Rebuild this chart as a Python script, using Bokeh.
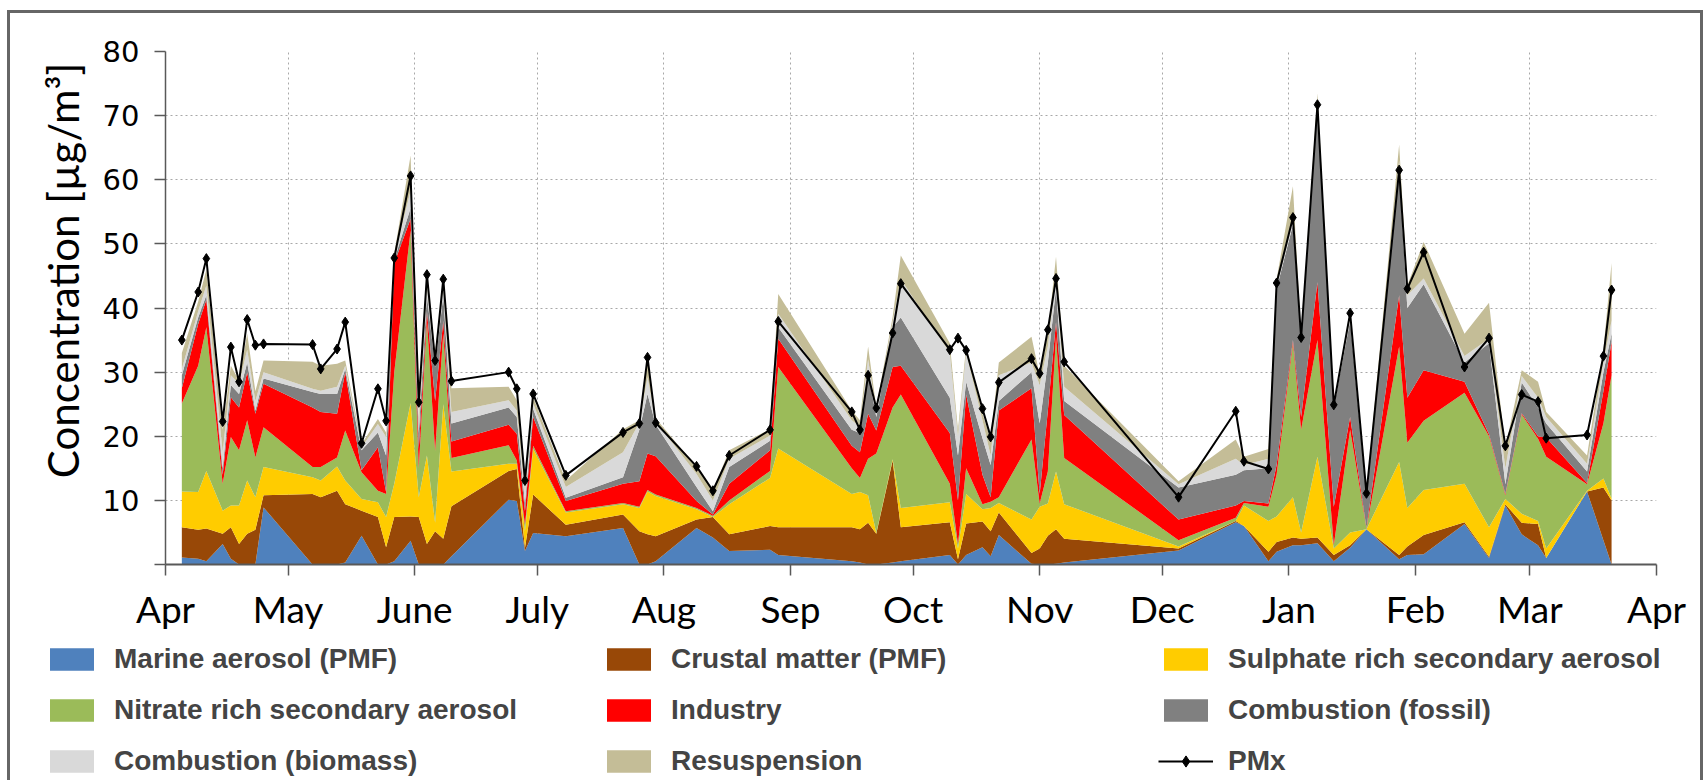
from bokeh.plotting import figure
from bokeh.layouts import column
from bokeh.models import ColumnDataSource, Range1d, FixedTicker, Legend, LegendItem
from bokeh.embed import file_html
from bokeh.resources import INLINE

# ---- axis categories / tick labels (days counted from 1 April) ----
month_start_day = [0, 30, 61, 91, 122, 153, 183, 214, 244, 275, 306, 334, 365]
month_labels = ["Apr", "May", "June", "July", "Aug", "Sep", "Oct", "Nov", "Dec",
                "Jan", "Feb", "Mar", "Apr"]
y_ticks = [0, 10, 20, 30, 40, 50, 60, 70, 80]

# ---- sampling days (days since 1 April) ----
sample_day = [4, 8, 10, 14, 16, 18, 20, 22, 24, 36,
              38, 42, 44, 48, 52, 54, 56, 60, 62, 64,
              66, 68, 70, 84, 86, 88, 90, 98, 112, 116,
              118, 120, 130, 134, 138, 148, 150, 168, 170, 172,
              174, 178, 180, 192, 194, 196, 200, 202, 204, 212,
              214, 216, 218, 220, 248, 262, 264, 270, 272, 276,
              278, 282, 286, 290, 294, 302, 304, 308, 318, 324,
              328, 332, 336, 338, 348, 352, 354]

# ---- source contributions (ug/m3) ----
marine = [1.1, 0.9, 0.5, 3.2, 0.9, 0.0, 0.0, 0.0, 8.9, 0.0,
          0.0, 0.0, 0.3, 4.5, 0.0, 0.0, 0.5, 3.7, 0.0, 0.0,
          0.0, 0.0, 1.3, 10.1, 9.9, 2.1, 4.9, 4.4, 5.7, 0.0,
          0.0, 0.5, 5.7, 4.2, 2.1, 2.3, 1.5, 0.5, 0.3, 0.0,
          0.0, 0.3, 0.5, 1.5, 0.0, 1.5, 2.7, 1.3, 4.6, 0.1,
          0.0, 0.0, 0.1, 0.3, 2.2, 6.6, 6.0, 0.5, 2.0, 3.0,
          3.0, 3.3, 0.5, 2.6, 5.5, 0.8, 1.5, 1.6, 6.3, 1.0,
          9.2, 4.7, 3.0, 1.0, 11.4, 3.8, 0.0]
crustal = [4.7, 4.5, 5.1, 1.6, 4.9, 3.2, 4.8, 5.4, 1.9, 11.0,
           10.5, 11.5, 9.1, 3.9, 7.4, 2.7, 6.9, 3.8, 7.4, 3.2,
           5.2, 4.0, 7.8, 4.5, 5.0, 0.5, 6.0, 1.8, 2.1, 5.2,
           4.7, 3.9, 1.3, 3.2, 2.6, 3.7, 4.3, 5.3, 5.2, 6.5,
           4.8, 15.9, 5.3, 5.1, 0.8, 4.9, 4.0, 3.9, 3.5, 1.7,
           2.5, 4.5, 5.4, 3.7, 0.3, 0.2, 0.0, 1.5, 1.5, 1.2,
           1.0, 0.9, 1.0, 0.4, 0.0, 0.7, 1.3, 3.0, 0.3, 0.2,
           0.2, 1.8, 3.3, 0.0, 0.0, 8.2, 10.0]
sulphate = [5.6, 5.9, 9.0, 3.6, 3.4, 6.0, 8.3, 5.1, 4.4, 2.6,
            2.6, 3.8, 3.7, 1.8, 2.3, 4.7, 5.2, 17.7, 3.1, 13.8,
            1.3, 21.0, 5.4, 1.1, 0.8, 2.6, 7.1, 1.9, 1.6, 3.6,
            6.7, 6.3, 1.6, 0.0, 4.7, 7.5, 12.3, 5.2, 5.8, 4.3,
            0.1, 0.2, 3.0, 3.1, 1.7, 4.6, 1.9, 3.6, 1.5, 5.2,
            6.5, 5.0, 9.0, 5.4, 0.3, 0.0, 3.2, 4.8, 4.0, 6.3,
            1.0, 12.6, 1.0, 2.0, 0.0, 14.5, 6.0, 7.0, 6.0, 4.6,
            0.8, 1.4, 0.5, 1.5, 0.1, 1.4, 0.3]
nitrate = [13.7, 19.7, 22.4, 4.2, 10.7, 8.6, 9.4, 6.2, 6.2, 1.6,
           2.1, 1.4, 7.8, 4.2, 1.8, 3.6, 17.4, 26.9, 4.5, 21.0,
           11.2, 11.0, 2.1, 2.9, 0.5, 1.0, 0.5, 0.2, 0.2, 0.2,
           0.2, 0.2, 0.2, 0.2, 0.6, 1.1, 12.7, 4.0, 2.2, 5.7,
           12.4, 8.1, 17.7, 2.9, 0.7, 4.0, 0.8, 1.0, 0.9, 12.5,
           0.5, 5.0, 21.0, 7.2, 1.0, 0.5, 0.4, 2.2, 6.5, 24.0,
           16.0, 18.2, 0.5, 16.0, 0.1, 18.0, 10.2, 10.8, 14.2, 14.2,
           0.6, 15.5, 12.8, 14.3, 1.0, 8.6, 19.2]
industry = [2.4, 6.5, 4.3, 1.4, 6.2, 6.7, 7.5, 6.8, 6.8, 9.3,
            8.6, 6.8, 9.1, 0.3, 6.8, 0.3, 17.0, 1.8, 3.0, 1.5,
            7.8, 2.0, 2.6, 3.2, 4.2, 2.1, 4.5, 1.6, 3.0, 4.0,
            5.7, 6.0, 1.1, 0.2, 2.6, 3.2, 4.4, 3.5, 4.0, 7.0,
            3.6, 6.3, 4.5, 7.9, 6.8, 11.5, 4.6, 0.7, 13.5, 8.0,
            1.5, 9.5, 2.3, 6.7, 3.2, 1.9, 0.3, 0.5, 1.5, 0.5,
            2.0, 9.0, 6.0, 2.0, 0.1, 8.0, 7.0, 7.9, 1.7, 0.3,
            0.2, 0.2, 0.4, 3.0, 0.2, 5.0, 5.2]
fossil = [2.0, 1.0, 0.7, 1.0, 1.9, 2.1, 1.5, 0.5, 0.8, 2.4,
          2.8, 3.1, 0.5, 3.1, 2.3, 5.7, 0.5, 1.7, 2.5, 2.5,
          5.3, 4.0, 2.8, 2.7, 2.6, 1.2, 1.3, 0.5, 1.0, 8.0,
          9.3, 4.9, 2.2, 0.5, 2.6, 1.5, 1.8, 2.5, 3.0, 6.5,
          2.1, 6.2, 7.5, 5.5, 7.0, 2.0, 5.7, 5.0, 1.5, 2.5,
          11.0, 7.5, 5.2, 2.2, 5.0, 4.8, 4.8, 5.5, 27.5, 18.0,
          12.0, 27.5, 15.5, 15.0, 4.8, 19.5, 14.0, 13.4, 3.0, 14.2,
          1.5, 4.8, 4.5, 2.2, 1.8, 3.0, 1.3]
biomass = [1.0, 1.0, 1.5, 2.5, 1.5, 1.6, 2.0, 1.5, 1.0, 0.5,
           0.5, 1.1, 0.5, 0.5, 1.3, 2.9, 0.5, 2.7, 1.0, 1.5,
           0.9, 1.3, 1.8, 1.1, 1.0, 1.9, 0.8, 1.7, 3.9, 1.1,
           2.6, 0.5, 2.0, 1.7, 1.3, 0.8, 2.1, 1.5, 1.0, 2.0,
           0.8, 0.8, 6.0, 7.0, 3.0, 4.5, 2.8, 1.5, 4.0, 1.5,
           6.0, 2.5, 2.0, 2.2, 0.5, 2.5, 0.8, 1.5, 0.5, 1.0,
           0.2, 0.5, 0.2, 0.5, 0.5, 1.5, 2.0, 0.9, 1.0, 0.7,
           2.5, 1.0, 1.5, 1.0, 1.2, 1.5, 2.0]
resuspension = [2.5, 1.5, 2.5, 3.5, 1.5, 0.5, 2.5, 1.5, 1.8, 4.2,
                3.9, 3.6, 0.8, 0.5, 0.8, 0.7, 0.5, 5.5, 1.5, 2.0,
                1.2, 1.0, 3.7, 2.1, 1.6, 1.2, 1.0, 1.0, 3.6, 0.4,
                3.0, 0.5, 1.1, 1.5, 1.3, 1.0, 3.1, 1.5, 1.0, 2.0,
                0.7, 0.8, 3.7, 1.5, 1.0, 1.0, 1.0, 2.5, 2.0, 4.0,
                1.5, 2.0, 3.0, 3.3, 0.5, 3.0, 1.3, 1.5, 1.0, 5.0,
                0.3, 1.5, 0.3, 1.0, 0.5, 2.5, 1.5, 5.7, 3.5, 5.6,
                3.2, 0.9, 2.5, 0.8, 1.3, 2.0, 9.0]

# ---- measured PMx ----
pmx = [35.0, 42.5, 47.7, 22.3, 33.9, 28.5, 38.2, 34.2, 34.4, 34.3,
       30.5, 33.6, 37.8, 18.9, 27.4, 22.4, 47.8, 60.6, 25.3, 45.2,
       31.8, 44.5, 28.6, 30.0, 27.4, 13.1, 26.6, 13.9, 20.6, 22.0,
       32.3, 22.1, 15.3, 11.5, 17.0, 21.0, 37.9, 23.8, 21.0, 29.5,
       24.4, 36.1, 43.8, 33.5, 35.3, 33.4, 24.3, 19.9, 28.4, 32.1,
       29.8, 36.6, 44.6, 31.6, 10.5, 23.9, 16.1, 14.9, 43.9, 54.1,
       35.4, 71.7, 24.9, 39.2, 11.1, 61.5, 43.0, 48.7, 30.8, 35.3,
       18.5, 26.5, 25.4, 19.7, 20.2, 32.5, 42.8]

series_keys = ["marine", "crustal", "sulphate", "nitrate", "industry",
               "fossil", "biomass", "resuspension"]
series_labels = ["Marine aerosol (PMF)", "Crustal matter (PMF)",
                 "Sulphate rich secondary aerosol", "Nitrate rich secondary aerosol",
                 "Industry", "Combustion (fossil)", "Combustion (biomass)", "Resuspension"]
series_colors = ["#4F81BD", "#984807", "#FFCC00", "#9BBB59", "#FF0000",
                 "#808080", "#D9D9D9", "#C4BD97"]
y_title = "Concentration [µg/m³]"

source = ColumnDataSource(dict(x=sample_day, marine=marine, crustal=crustal,
                               sulphate=sulphate, nitrate=nitrate, industry=industry,
                               fossil=fossil, biomass=biomass, resuspension=resuspension,
                               pmx=pmx))

# ================= main chart =================
p = figure(width=1706, height=636, x_range=Range1d(0, 365), y_range=Range1d(0, 80),
           output_backend="svg", toolbar_location=None,
           min_border_left=165, min_border_right=50, min_border_top=51,
           min_border_bottom=72)
p.outline_line_color = None
p.border_fill_color = None
p.background_fill_color = "white"

p.varea_stack(stackers=series_keys, x="x", color=series_colors, source=source)
p.line("x", "pmx", source=source, line_color="black", line_width=2)
p.scatter("x", "pmx", source=source, marker="diamond", size=10,
          fill_color="black", line_color="black")

p.xaxis.ticker = FixedTicker(ticks=month_start_day)
p.xaxis.major_label_overrides = {d: lab for d, lab in zip(month_start_day, month_labels)}
p.yaxis.ticker = FixedTicker(ticks=y_ticks)
p.yaxis.major_label_overrides = {0: ""}
for ax in (p.xaxis[0], p.yaxis[0]):
    ax.axis_line_color = "#595959"
    ax.axis_line_width = 1.5
    ax.major_tick_line_color = "#595959"
    ax.major_tick_line_width = 1.5
    ax.major_tick_in = 0
    ax.major_tick_out = 11
    ax.minor_tick_line_color = None
    ax.major_label_text_color = "black"
p.xaxis.axis_line_width = 2
p.xaxis.major_label_text_font = "Lato"
p.xaxis.major_label_text_font_size = "37px"
p.xaxis.major_label_standoff = 10
p.yaxis.major_label_text_font = "DejaVu Sans"
p.yaxis.major_label_text_font_size = "29px"
p.yaxis.major_label_standoff = 15
# y axis title (leading no-break spaces lift it above the frame centre, as in the original)
p.yaxis.axis_label = "\u00a0" * 7 + y_title
p.yaxis.axis_label_text_font = "Lato"
p.yaxis.axis_label_text_font_size = "42px"
p.yaxis.axis_label_text_font_style = "normal"
p.yaxis.axis_label_text_color = "black"
p.yaxis.axis_label_standoff = 12

for g in (p.xgrid[0], p.ygrid[0]):
    g.grid_line_color = "#A8A8A8"
    g.grid_line_dash = "2 3"
    g.grid_line_width = 1

# ================= legend strip =================
lf = figure(width=1706, height=144, x_range=Range1d(0, 1), y_range=Range1d(10, 20),
            output_backend="svg", toolbar_location=None,
            x_axis_location=None, y_axis_location=None, min_border=0)
lf.outline_line_color = None
lf.border_fill_color = None
lf.background_fill_color = None
lf.xgrid.visible = False
lf.ygrid.visible = False
for fig in (p, lf):
    if "frame_align" in fig.properties():
        fig.frame_align = False

proxy = ColumnDataSource(dict(x=[0, 1], y=[0, 0]))
items = []
for lab, col in zip(series_labels, series_colors):
    r = lf.varea(x="x", y1="y", y2="y", source=proxy, fill_color=col)
    items.append(LegendItem(label=lab, renderers=[r]))
rl = lf.line("x", "y", source=proxy, line_color="black", line_width=2)
rs = lf.scatter("x", "y", source=proxy, marker="diamond", size=9,
                fill_color="black", line_color="black")
items.append(LegendItem(label="PMx", renderers=[rl, rs]))

legend = Legend(items=items, orientation="horizontal", ncols=3,
                location=(44, 3), padding=0, margin=0, spacing=19,
                glyph_width=55, glyph_height=28, label_width=468, label_height=30,
                label_standoff=15, label_text_font="Liberation Sans",
                label_text_font_style="bold", label_text_font_size="28px",
                border_line_color=None, background_fill_alpha=0)
lf.add_layout(legend)

frame_css = ("inset 7px 0 0 0 #ffffff, inset 0 10px 0 0 #ffffff, inset -3px 0 0 0 #ffffff, "
             "inset 10px 0 0 0 #666666, inset 0 13px 0 0 #666666, inset -6px 0 0 0 #666666")
layout = column(p, lf, spacing=0, styles={"box-shadow": frame_css})

open("out.html", "w").write(file_html(layout, INLINE))
